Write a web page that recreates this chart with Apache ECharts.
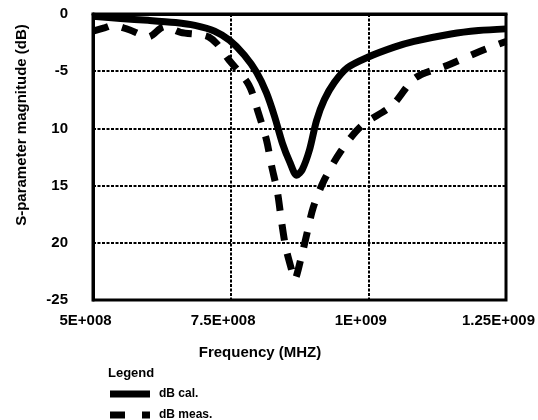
<!DOCTYPE html>
<html>
<head>
<meta charset="utf-8">
<script src="https://cdn.jsdelivr.net/npm/echarts@6/dist/echarts.min.js"></script>
<style>
  html, body { margin: 0; padding: 0; background: #fff; }
  #sparamChart { width: 538px; height: 420px; }
</style>
</head>
<body>
<div id="sparamChart"></div>
<script>
// tick labels as printed on the original plot
var xTickLabels = ['5E+008', '7.5E+008', '1E+009', '1.25E+009']
var yTickValues = [0, -5, -10, -15, -20, -25]
var yTickLabels = ['0', '-5', '10', '15', '20', '-25']

// dB cal. (calculated)
var calFreq = [5.0e8, 5.5e8, 6.0e8, 6.5e8, 6.85e8, 7.21e8, 7.48e8, 7.75e8, 7.97e8, 8.15e8, 8.30e8, 8.44e8, 8.57e8, 8.70e8, 8.80e8, 8.93e8, 9.06e8, 9.20e8, 9.38e8, 9.62e8, 9.98e8, 1.047e9, 1.083e9, 1.15e9, 1.2e9, 1.25e9]
var calDb = [-0.2, -0.4, -0.55, -0.75, -1.0, -1.5, -2.3, -3.6, -5.1, -6.9, -9.0, -11.3, -12.9, -14.1, -13.6, -11.9, -9.3, -7.5, -6.0, -4.7, -3.8, -2.9, -2.4, -1.75, -1.45, -1.3]

// dB meas. (measured)
var measFreq = [5.0e8, 5.22e8, 5.36e8, 5.67e8, 6.0e8, 6.3e8, 6.59e8, 6.94e8, 7.1e8, 7.25e8, 7.45e8, 7.83e8, 8.0e8, 8.15e8, 8.24e8, 8.35e8, 8.42e8, 8.5e8, 8.62e8, 8.66e8, 8.77e8, 8.88e8, 9.0e8, 9.2e8, 9.5e8, 9.87e8, 1.043e9, 1.085e9, 1.143e9, 1.201e9, 1.25e9]
var measDb = [-1.5, -1.2, -1.0, -1.4, -2.0, -1.1, -1.6, -1.8, -2.0, -2.6, -3.9, -6.2, -8.6, -11.0, -13.2, -15.6, -18.0, -20.4, -22.6, -23.2, -21.5, -19.3, -16.9, -14.5, -12.0, -9.8, -8.0, -5.6, -4.5, -3.3, -2.4]

function toPairs(xs, ys) {
  return xs.map(function (x, i) { return [x, ys[i]] })
}

var FONT = '"Liberation Sans", Arial, sans-serif'
var myChart = echarts.init(document.getElementById('sparamChart'))

var option = {
  animation: false,
  backgroundColor: '#fff',
  grid: {
    left: 93,
    right: 31,
    top: 14,
    bottom: 120,
    show: true,
    borderColor: '#000',
    borderWidth: 3
  },
  xAxis: {
    type: 'value',
    min: 5e8,
    max: 1.25e9,
    interval: 2.5e8,
    axisLine: { show: true, lineStyle: { color: '#000', width: 3 } },
    axisTick: { show: false },
    axisLabel: {
      color: '#000',
      fontFamily: FONT,
      fontWeight: 'bold',
      fontSize: 15,
      margin: 13,
      padding: [0, 15, 0, 0],
      formatter: function (v) {
        var idx = Math.round((v - 5e8) / 2.5e8)
        return xTickLabels[idx] || ''
      }
    },
    splitLine: { show: true, lineStyle: { color: '#000', width: 2, type: [3, 1.5] } }
  },
  yAxis: {
    type: 'value',
    min: -25,
    max: 0,
    interval: 5,
    axisLine: { show: true, lineStyle: { color: '#000', width: 3 } },
    axisTick: { show: false },
    axisLabel: {
      color: '#000',
      fontFamily: FONT,
      fontWeight: 'bold',
      fontSize: 15,
      margin: 25,
      formatter: function (v) {
        var idx = yTickValues.indexOf(v)
        return idx >= 0 ? yTickLabels[idx] : ''
      }
    },
    splitLine: { show: true, lineStyle: { color: '#000', width: 2, type: [3, 1.5] } }
  },
  legend: {
    orient: 'vertical',
    left: 110,
    top: 388,
    height: 40,
    itemWidth: 40,
    itemHeight: 7,
    itemGap: 9,
    padding: 0,
    textStyle: { color: '#000', fontFamily: FONT, fontWeight: 'bold', fontSize: 12, padding: [0, 0, 0, 4] },
    data: [
      { name: 'dB cal.', icon: 'rect' },
      { name: 'dB meas.', icon: 'path://M0,0h15v7h-15zM32,0h8v7h-8z' }
    ]
  },
  graphic: [
    { // y axis name
      type: 'text',
      x: 22,
      y: 125,
      rotation: Math.PI / 2,
      style: {
        text: 'S-parameter magnitude (dB)',
        fill: '#000',
        font: 'bold 15px ' + FONT,
        align: 'center',
        verticalAlign: 'middle'
      }
    },
    { // x axis name
      type: 'text',
      x: 260,
      y: 353,
      style: {
        text: 'Frequency (MHZ)',
        fill: '#000',
        font: 'bold 15px ' + FONT,
        align: 'center',
        verticalAlign: 'middle'
      }
    },
    { // legend title
      type: 'text',
      x: 108,
      y: 373,
      style: {
        text: 'Legend',
        fill: '#000',
        font: 'bold 13px ' + FONT,
        align: 'left',
        verticalAlign: 'middle'
      }
    }
  ],
  series: [
    {
      name: 'dB cal.',
      type: 'line',
      smooth: 0.3,
      showSymbol: false,
      itemStyle: { color: '#000' },
      lineStyle: { color: '#000', width: 7, join: 'round' },
      data: toPairs(calFreq, calDb)
    },
    {
      name: 'dB meas.',
      type: 'line',
      smooth: 0.3,
      showSymbol: false,
      itemStyle: { color: '#000' },
      lineStyle: { color: '#000', width: 7, type: [16, 14], cap: 'butt' },
      data: toPairs(measFreq, measDb)
    }
  ]
}
myChart.setOption(option)
</script>
</body>
</html>
